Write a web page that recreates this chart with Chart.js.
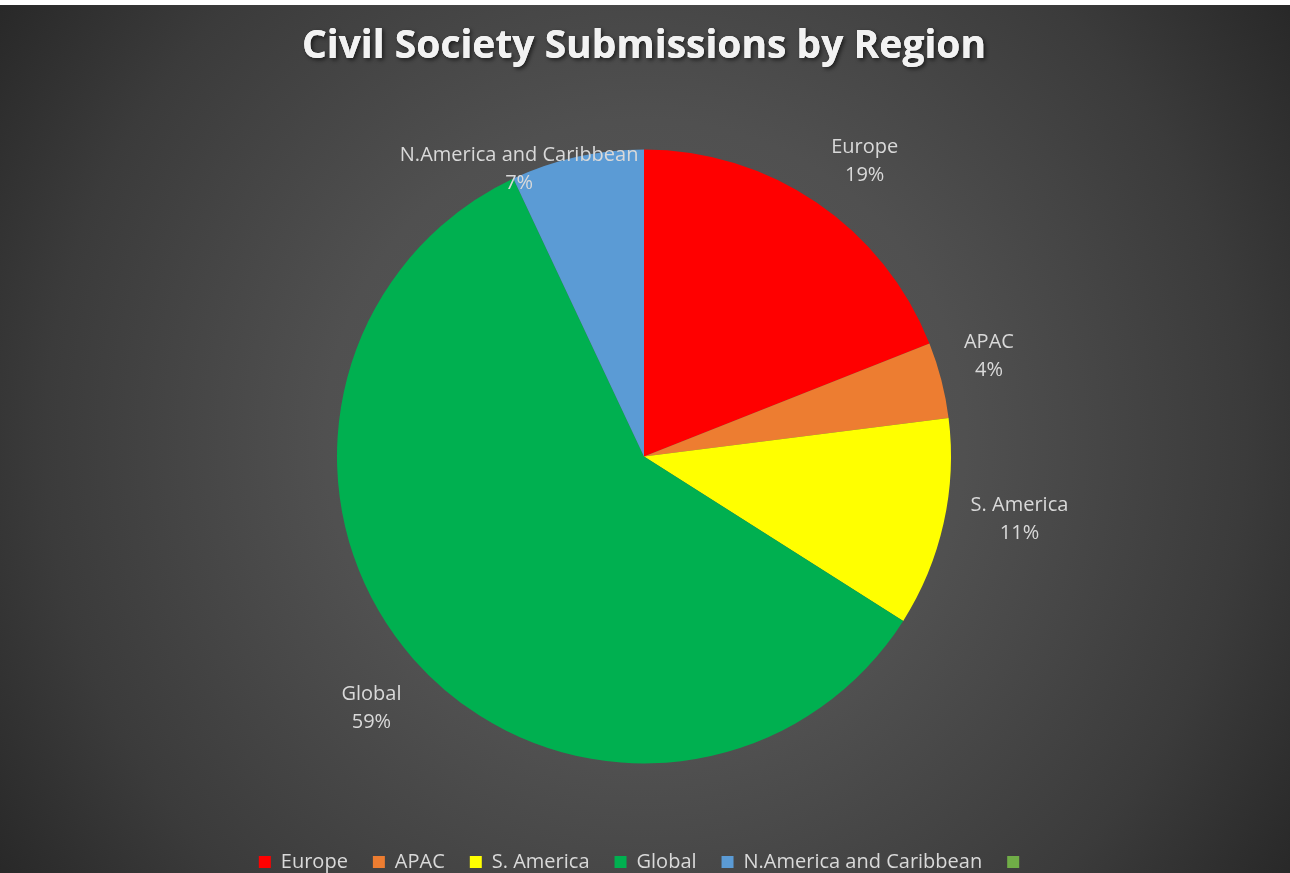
<!DOCTYPE html>
<html>
<head>
<meta charset="utf-8">
<script src="https://cdn.jsdelivr.net/npm/chart.js@4/dist/chart.umd.min.js"></script>
<style>
  html, body { margin: 0; padding: 0; background: #fff; }
  #wrap { width: 1290px; height: 873px; }
</style>
</head>
<body>
<div id="wrap"><canvas id="regionChart" width="1290" height="873"></canvas></div>
<script>
// data (percent of submissions)
const regions = ['Europe', 'APAC', 'S. America', 'Global', 'N.America and Caribbean', ''];
const shares = [19, 4, 11, 59, 7, 0];
const sliceColors = ['#ff0000', '#ed7d31', '#ffff00', '#00b050', '#5b9bd5', '#70ad47'];
const chartTitle = 'Civil Society Submissions by Region';
const titleFont = { family: 'Open Sans', size: 39, weight: 'bold' };

// dark radial backdrop, white strip at the top like the screenshot
const backdrop = {
    id: 'backdrop',
    beforeDraw(chart) {
        const ctx = chart.ctx;
        const w = chart.width, h = chart.height;
        const g = ctx.createRadialGradient(w / 2, 440, 0, w / 2, 440, 800);
        g.addColorStop(0, '#5a5a5a');
        g.addColorStop(0.4, '#505050');
        g.addColorStop(0.75, '#3b3b3b');
        g.addColorStop(1, '#262626');
        ctx.save();
        ctx.fillStyle = g;
        ctx.fillRect(0, 5, w, h - 5);

        // soft shadow under the title text
        const tb = chart.titleBlock;
        if (tb) {
            const pad = tb.options.padding;
            ctx.font = `bold ${titleFont.size}px "${titleFont.family}"`;
            ctx.textAlign = 'center';
            ctx.textBaseline = 'middle';
            ctx.fillStyle = '#f2f2f2';
            ctx.shadowColor = 'rgba(0,0,0,0.6)';
            ctx.shadowBlur = 4;
            ctx.shadowOffsetX = 2;
            ctx.shadowOffsetY = 2;
            ctx.fillText(chartTitle, (tb.left + tb.right) / 2, tb.top + pad.top + titleFont.size * 1.2 / 2);
        }
        ctx.restore();
    }
};

// name + percent labels outside the slices
const sliceLabels = {
    id: 'sliceLabels',
    afterDatasetsDraw(chart, args, opts) {
        const ctx = chart.ctx;
        const meta = chart.getDatasetMeta(0);
        const total = shares.reduce((a, b) => a + b, 0);
        ctx.save();
        ctx.font = '20px "Open Sans"';
        ctx.fillStyle = '#d9d9d9';
        ctx.textAlign = 'center';
        ctx.textBaseline = 'middle';
        meta.data.forEach((arc, i) => {
            if (!shares[i]) return;
            const p = arc.getProps(['x', 'y', 'startAngle', 'endAngle', 'outerRadius'], true);
            const [k, shift] = opts.placement[i];
            const a = (p.startAngle + p.endAngle) / 2 + shift * Math.PI / 180;
            const r = p.outerRadius * k;
            const cx = p.x + Math.cos(a) * r;
            const cy = p.y + Math.sin(a) * r;
            ctx.fillText(regions[i], cx, cy - 14);
            ctx.fillText(Math.round(shares[i] / total * 100) + '%', cx, cy + 14);
        });
        ctx.restore();
    }
};

new Chart(document.getElementById('regionChart'), {
    type: 'pie',
    data: {
        labels: regions,
        datasets: [{
            data: shares,
            backgroundColor: sliceColors,
            borderWidth: 0
        }]
    },
    options: {
        responsive: false,
        animation: false,
        radius: 307,
        layout: { padding: { left: 0, right: 2, top: 0, bottom: -9 } },
        plugins: {
            title: {
                display: true,
                text: chartTitle,
                color: '#f2f2f2',
                font: titleFont,
                padding: { top: 23, bottom: 16 }
            },
            legend: {
                position: 'bottom',
                labels: {
                    color: '#d9d9d9',
                    font: { family: 'Open Sans', size: 20 },
                    boxWidth: 12,
                    boxHeight: 12,
                    padding: 25
                }
            },
            tooltip: { enabled: false },
            sliceLabels: {
                placement: [[1.2, 2.6], [1.17, -1.8], [1.24, -3.1], [1.21, -1.4], [1.02, -10.9], [1, 0]]
            }
        }
    },
    plugins: [backdrop, sliceLabels]
});
</script>
</body>
</html>
